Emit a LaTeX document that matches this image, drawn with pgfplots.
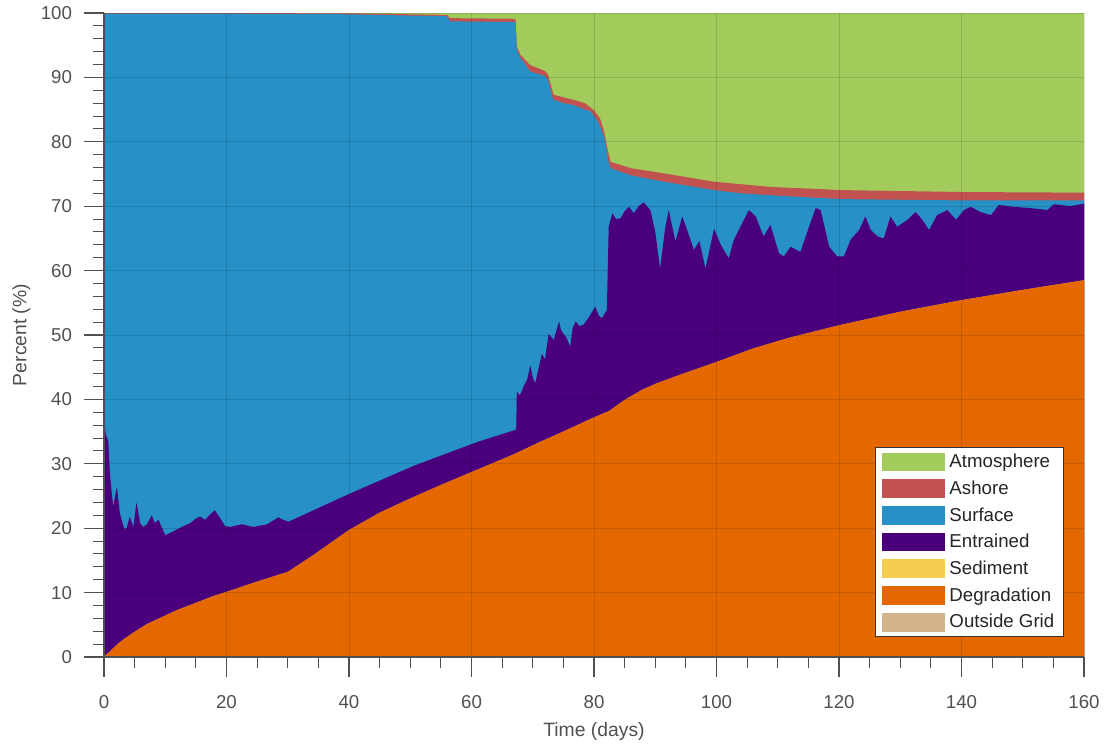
\documentclass[border=0pt]{standalone}
\usepackage{fontspec}
\setmainfont{Liberation Sans}
\usepackage{pgfplots}
\usepackage{pgfplotstable}
\pgfplotsset{compat=1.18}

\definecolor{atmc}{RGB}{162,203,92}
\definecolor{ashc}{RGB}{194,82,79}
\definecolor{surfc}{RGB}{39,144,198}
\definecolor{entc}{RGB}{74,0,124}
\definecolor{sedc}{RGB}{245,205,80}
\definecolor{degc}{RGB}{229,103,0}
\definecolor{outc}{RGB}{212,180,140}
\definecolor{axgray}{RGB}{80,80,80}

% cumulative tops of the stacked layers (percent)
\pgfplotstableread{
t v
0 100
160 100
}\atmtab

\pgfplotstableread{
t v
0 100
40 99.95
50 99.8
56 99.7
56.5 99.2
67.2 99.1
67.4 94.8
68 93.5
69.6 91.9
72.0 91.0
72.5 90.4
73.4 87.3
76.7 86.5
78.5 86.0
80 84.9
81 83.6
81.6 81.8
82.3 78.5
82.7 76.9
86 75.9
91.4 75.1
99.6 73.8
108.8 73.0
120.3 72.5
140.4 72.2
160 72.1
}\ashtab

\pgfplotstableread{
t v
0 99.9
20 99.9
40 99.8
50 99.6
56 99.5
56.5 98.7
67.2 98.6
67.4 94.3
68 93.0
69.6 90.9
72.0 90.2
72.5 89.6
73.1 87.3
73.4 86.5
75 86.0
76.7 85.7
78.5 85.0
79.5 84.7
80.8 82.9
81.8 80.3
82.3 77.2
82.7 75.9
86 74.8
91.4 73.8
99.6 72.5
104 72.0
110.5 71.6
120.3 71.1
140 70.9
160 70.9
}\surftab

\pgfplotstableread{
t v
0 37.0
0.3 34.5
0.7 33.5
1.0 28.0
1.5 23.3
2.1 26.4
2.6 22.3
3.3 19.9
3.7 20.0
4.2 21.8
4.8 20.2
5.3 24.0
5.9 20.8
6.4 20.2
7.0 20.6
7.8 22.0
8.3 20.8
8.9 21.3
10.0 18.9
11.3 19.5
12.7 20.2
14.1 20.8
15.0 21.5
15.7 21.8
16.5 21.3
17.2 22.0
18.1 22.8
19.0 21.5
19.8 20.3
20.6 20.2
22.5 20.6
24.4 20.2
26.6 20.6
28.5 21.7
29.0 21.4
30.1 21.0
33.1 22.3
40.2 25.4
50.6 29.7
61.0 33.4
67.3 35.3
67.4 41.2
67.9 40.6
68.5 42.0
69.1 43.1
69.6 45.3
70.0 43.4
70.4 42.5
71.0 45.0
71.5 47.1
72.0 46.2
72.6 50.2
73.4 49.2
74.3 52.1
74.6 50.8
75.0 50.2
75.5 49.6
76.1 48.2
76.5 51.0
77.0 52.1
77.6 51.4
78.3 51.6
79.2 52.8
80.2 54.4
80.8 53.0
81.3 52.6
82.1 53.9
82.4 66.8
83.0 68.9
83.6 68.0
84.3 68.1
85.0 69.2
85.7 69.9
86.5 68.9
87.3 70.0
88.1 70.6
89.2 69.4
90.0 66.0
90.8 60.3
91.6 66.5
92.2 69.4
93.3 64.5
94.4 68.4
95.4 65.8
96.3 63.2
97.2 64.6
98.2 60.3
99.6 66.5
100.7 64.0
102.0 61.9
102.8 64.7
104.0 67.0
105.3 69.4
106.4 68.4
107.7 65.3
108.8 67.1
110.2 62.7
111.0 62.2
112.1 63.7
113.7 62.9
115.0 66.5
116.2 69.7
117.0 69.4
118.4 63.7
119.7 62.2
120.8 62.2
121.9 64.8
123.3 66.3
124.3 68.4
125.2 66.3
126.3 65.3
127.3 65.0
128.4 68.4
129.5 66.8
131.2 67.9
132.5 69.1
133.6 67.9
134.7 66.3
136.0 68.6
137.7 69.4
139.1 67.9
140.4 69.4
141.5 69.9
143.1 69.1
144.8 68.6
146.1 70.2
148.6 69.9
151.3 69.7
154.0 69.4
155.1 70.3
157.8 70.0
160 70.4
}\enttab

\pgfplotstableread{
t v
0 0
1 0.9
2 1.8
3 2.6
5 3.9
7 5.1
9.5 6.2
12 7.3
15 8.4
18 9.5
20 10.1
25 11.7
30 13.2
34 15.7
40 19.7
45 22.4
50 24.6
55 26.7
60 28.7
65 30.7
67 31.5
71 33.3
75 35.0
80 37.2
82.5 38.2
85 39.9
87.7 41.4
90 42.4
94 43.8
100 45.8
106 47.9
112 49.6
120 51.5
130 53.6
140 55.4
150 57.0
160 58.5
}\degtab

\pgfplotstableread{
t v
0 0
160 0
}\outtab

\begin{document}
\begin{tikzpicture}
\begin{axis}[
  name=ax,
  scale only axis, width=735pt, height=483pt,
  xmin=0, xmax=160, ymin=0, ymax=100,
  axis x line*=bottom, axis y line*=left,
  xtick={0,20,...,160}, ytick={0,10,...,100},
  minor x tick num=3, minor y tick num=4,
  tick align=outside,
  major tick length=15pt, minor tick length=8.5pt,
  tick style={axgray, line width=0.8pt},
  axis line style={axgray, line width=0.8pt},
  grid=major,
  major grid style={black, opacity=0.13, line width=0.7pt},
  axis on top,
  /pgf/number format/assume math mode=true,
  ticklabel style={font=\fontsize{14}{16}\selectfont, text=axgray},
  xticklabel shift=10pt,
  yticklabel shift=5.5pt,
  xlabel={Time (days)}, ylabel={Percent (\%)},
  every axis x label/.style={at={(axis description cs:0.5,0)}, anchor=center, yshift=-56pt, font=\fontsize{14.5}{17}\selectfont, text=axgray},
  every axis y label/.style={at={(axis description cs:0,0.5)}, xshift=-62pt, rotate=90, anchor=center, font=\fontsize{14.5}{17}\selectfont, text=axgray},
  legend cell align=left,
  legend image code/.code={\fill[#1] (0pt,-7pt) rectangle (47pt,7pt); \path (48.5pt,0pt);},
  legend style={at={(axis description cs:1,0)}, anchor=south east,
    xshift=-15pt, yshift=15pt, draw=black!80, line width=0.6pt, fill=white,
    font=\fontsize{14}{16}\selectfont, text=black!85,
    inner xsep=5pt, inner ysep=3pt, row sep=4.4pt},
]
\addplot[fill=atmc, draw=none] table[x=t,y=v] {\atmtab} \closedcycle;
\addlegendentry{Atmosphere}
\addplot[fill=ashc, draw=none] table[x=t,y=v] {\ashtab} \closedcycle;
\addlegendentry{Ashore}
\addplot[fill=surfc, draw=none] table[x=t,y=v] {\surftab} \closedcycle;
\addlegendentry{Surface}
\addplot[fill=entc, draw=none] table[x=t,y=v] {\enttab} \closedcycle;
\addlegendentry{Entrained}
\addplot[fill=sedc, draw=none] table[x=t,y=v] {\degtab} \closedcycle;
\addlegendentry{Sediment}
\addplot[fill=degc, draw=none] table[x=t,y=v] {\degtab} \closedcycle;
\addlegendentry{Degradation}
\addplot[fill=outc, draw=none] table[x=t,y=v] {\outtab} \closedcycle;
\addlegendentry{Outside Grid}
\end{axis}
\pgfresetboundingbox
\path ([xshift=-78pt,yshift=-66.75pt]ax.south west) rectangle ([xshift=19.5pt,yshift=9.75pt]ax.north east);
\end{tikzpicture}
\end{document}
